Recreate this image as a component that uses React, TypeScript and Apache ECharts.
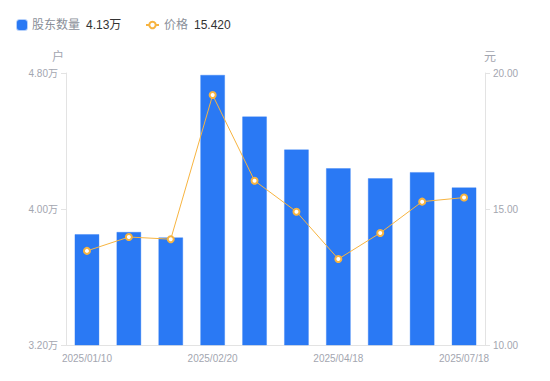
import React, { useEffect, useRef } from "react";
import * as echarts from "echarts";

const categories = [
  "2025/01/10",
  "2025/01/20",
  "2025/01/31",
  "2025/02/20",
  "2025/02/28",
  "2025/03/31",
  "2025/04/18",
  "2025/04/30",
  "2025/06/30",
  "2025/07/18",
];
const holders = [38530, 38660, 38340, 47900, 45450, 43510, 42410, 41820, 42180, 41280];
const prices = [13.46, 13.97, 13.89, 19.19, 16.04, 14.9, 13.16, 14.12, 15.27, 15.42];

const BLUE = "#2a79f4";
const ORANGE = "#f7b440";
const FONT = "Liberation Sans, Arial, Noto Sans CJK SC, sans-serif";

export default function App() {
  const ref = useRef<HTMLDivElement>(null);
  useEffect(() => {
    if (!ref.current) return;
    const chart = echarts.init(ref.current, undefined, { renderer: "svg" });
    const lastH = (holders[holders.length - 1] / 10000).toFixed(2) + "万";
    const lastP = prices[prices.length - 1].toFixed(3);
    const rich = {
      n: { color: "#8a8f99", fontSize: 12, fontFamily: FONT },
      v: { color: "#333333", fontSize: 12, fontFamily: FONT, padding: [0, 0, 0, 6] },
    };
    chart.setOption({
      animation: false,
      textStyle: { fontFamily: FONT },
      legend: [
        {
          data: [{ name: "股东数量", icon: "roundRect" }],
          left: 11,
          top: 14,
          itemWidth: 10,
          itemHeight: 10,
          itemGap: 5,
          formatter: (n: string) => `{n|${n}}{v|${lastH}}`,
          textStyle: { rich },
        },
        {
          data: ["价格"],
          left: 140,
          top: 14,
          itemWidth: 13,
          itemHeight: 8,
          formatter: (n: string) => `{n|${n}}{v|${lastP}}`,
          textStyle: { rich },
        },
      ],
      grid: { left: 66, right: 65, top: 73, bottom: 36, containLabel: false },
      xAxis: {
        type: "category",
        data: categories,
        axisLine: { lineStyle: { color: "#e3e3e3" } },
        axisTick: { show: false },
        axisLabel: { interval: 2, color: "#a3a6b0", fontSize: 10, margin: 8 },
      },
      yAxis: [
        {
          type: "value",
          name: "户",
          nameGap: 10,
          nameTextStyle: { color: "#a3a6b0", fontSize: 12, padding: [0, 16, 0, 0] },
          min: 32000,
          max: 48000,
          interval: 8000,
          axisLine: { show: true, lineStyle: { color: "#e3e3e3" } },
          axisTick: { show: true, length: 5, lineStyle: { color: "#e3e3e3" } },
          splitLine: { show: false },
          axisLabel: {
            color: "#a3a6b0",
            fontSize: 10,
            formatter: (v: number) => (v / 10000).toFixed(2) + "万",
          },
        },
        {
          type: "value",
          name: "元",
          nameGap: 10,
          nameTextStyle: { color: "#a3a6b0", fontSize: 12, padding: [0, 0, 0, 10] },
          min: 10,
          max: 20,
          interval: 5,
          axisLine: { show: true, lineStyle: { color: "#e3e3e3" } },
          axisTick: { show: true, length: 5, lineStyle: { color: "#e3e3e3" } },
          splitLine: { show: false },
          axisLabel: {
            color: "#a3a6b0",
            fontSize: 10,
            formatter: (v: number) => v.toFixed(2),
          },
        },
      ],
      series: [
        {
          name: "股东数量",
          type: "bar",
          yAxisIndex: 0,
          data: holders,
          barWidth: 25,
          itemStyle: { color: BLUE, borderColor: "rgba(42,121,244,0.35)", borderWidth: 1 },
        },
        {
          name: "价格",
          type: "line",
          yAxisIndex: 1,
          data: prices,
          symbol: "emptyCircle",
          symbolSize: 6,
          lineStyle: { color: ORANGE, width: 1 },
          itemStyle: { color: ORANGE, borderColor: ORANGE, borderWidth: 2 },
        },
      ],
    });
    return () => chart.dispose();
  }, []);
  return (
    <div
      ref={ref}
      style={{ position: "absolute", left: 0, top: 0, width: 550, height: 381 }}
    />
  );
}
